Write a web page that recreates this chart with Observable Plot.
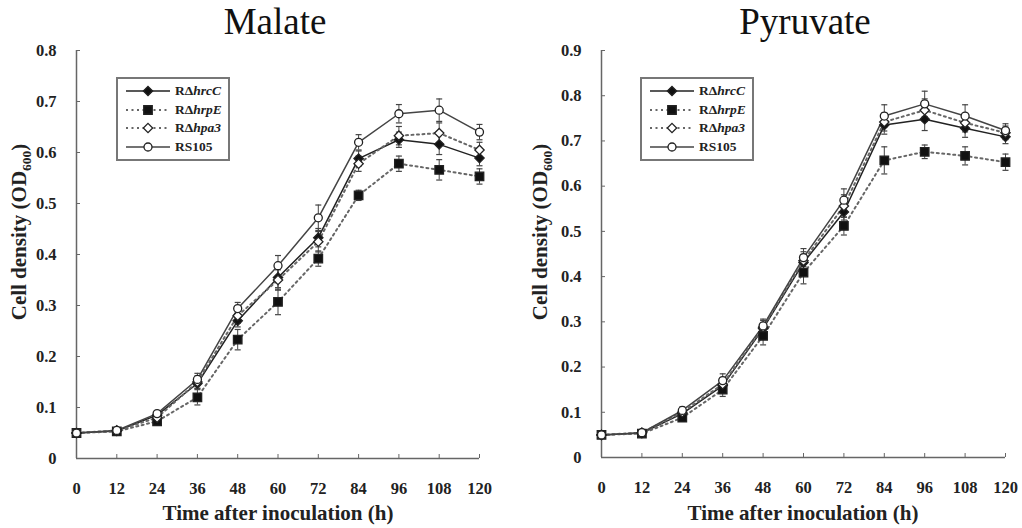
<!DOCTYPE html>
<html>
<head>
<meta charset="utf-8">
<script src="https://cdn.jsdelivr.net/npm/d3@7"></script>
<script src="https://cdn.jsdelivr.net/npm/@observablehq/plot@0.6"></script>
<style>
  html, body { margin: 0; padding: 0; background: #fff; }
  #wrap { position: relative; width: 1022px; height: 528px; overflow: hidden; font-family: "Liberation Serif", "Times New Roman", serif; }
  .panel { position: absolute; top: 0; width: 511px; height: 528px; }
  .title { position: absolute; top: 3px; font-size: 37px; line-height: 37px; color: #111; text-align: center; white-space: nowrap; }
  .legend { position: absolute; border: 2px solid #777; background: #fff; padding: 3px 6px 3px 6px; font-weight: bold; font-size: 13.5px; color: #222; }
  .legend .row { display: flex; align-items: center; height: 18.5px; white-space: nowrap; }
  .legend svg { margin-right: 3px; }
  .panel svg.plot { position: absolute; left: 0; top: 0; }
</style>
</head>
<body>
<div id="wrap"></div>
<script>
// ---------- data ----------
const hours = [0, 12, 24, 36, 48, 60, 72, 84, 96, 108, 120];
const seriesNames = ["RΔhrcC", "RΔhrpE", "RΔhpa3", "RS105"];

// Malate
const malateHrcC   = [0.050, 0.054, 0.085, 0.147, 0.270, 0.355, 0.433, 0.588, 0.625, 0.616, 0.589];
const malateHrpE   = [0.050, 0.053, 0.073, 0.120, 0.233, 0.307, 0.392, 0.516, 0.578, 0.566, 0.553];
const malateHpa3   = [0.050, 0.055, 0.080, 0.150, 0.280, 0.350, 0.425, 0.578, 0.633, 0.638, 0.605];
const malateRS105  = [0.050, 0.055, 0.088, 0.155, 0.294, 0.378, 0.472, 0.620, 0.676, 0.683, 0.640];
const malateErrHrcC  = [0.003, 0.004, 0.006, 0.010, 0.012, 0.020, 0.018, 0.015, 0.015, 0.020, 0.015];
const malateErrHrpE  = [0.003, 0.004, 0.008, 0.015, 0.020, 0.025, 0.015, 0.010, 0.015, 0.020, 0.015];
const malateErrHpa3  = [0.003, 0.004, 0.006, 0.012, 0.015, 0.020, 0.020, 0.015, 0.018, 0.020, 0.015];
const malateErrRS105 = [0.003, 0.004, 0.006, 0.012, 0.012, 0.020, 0.025, 0.015, 0.018, 0.022, 0.015];

// Pyruvate
const pyruvateHrcC   = [0.050, 0.054, 0.097, 0.159, 0.285, 0.431, 0.543, 0.735, 0.748, 0.728, 0.709];
const pyruvateHrpE   = [0.050, 0.053, 0.088, 0.150, 0.269, 0.409, 0.512, 0.657, 0.676, 0.667, 0.653];
const pyruvateHpa3   = [0.050, 0.055, 0.100, 0.162, 0.288, 0.435, 0.556, 0.742, 0.768, 0.740, 0.718];
const pyruvateRS105  = [0.050, 0.055, 0.104, 0.170, 0.291, 0.442, 0.569, 0.755, 0.782, 0.755, 0.723];
const pyruvateErrHrcC  = [0.003, 0.004, 0.008, 0.012, 0.012, 0.018, 0.018, 0.020, 0.025, 0.020, 0.015];
const pyruvateErrHrpE  = [0.003, 0.004, 0.008, 0.015, 0.020, 0.025, 0.020, 0.030, 0.015, 0.020, 0.018];
const pyruvateErrHpa3  = [0.003, 0.004, 0.008, 0.015, 0.015, 0.020, 0.025, 0.020, 0.025, 0.020, 0.015];
const pyruvateErrRS105 = [0.003, 0.004, 0.008, 0.015, 0.015, 0.020, 0.025, 0.025, 0.028, 0.025, 0.015];

const xTicks = [0, 12, 24, 36, 48, 60, 72, 84, 96, 108, 120];
const malateYTicks = [0, 0.1, 0.2, 0.3, 0.4, 0.5, 0.6, 0.7, 0.8];
const pyruvateYTicks = [0, 0.1, 0.2, 0.3, 0.4, 0.5, 0.6, 0.7, 0.8, 0.9];

// ---------- styling per series ----------
const styles = {
  "RΔhrcC": { stroke: "#222", dash: null, symbol: "diamond2", fill: "#111", r: 4.2 },
  "RΔhrpE": { stroke: "#666", dash: "2,3.5", symbol: "square", fill: "#111", r: 4.8 },
  "RΔhpa3": { stroke: "#666", dash: "2,3.5", symbol: "diamond2", fill: "#fff", r: 4.2 },
  "RS105":  { stroke: "#444", dash: null, symbol: "circle", fill: "#fff", r: 4.0 }
};

const capSymbol = { draw(ctx, size) { const r = Math.sqrt(size / Math.PI); ctx.moveTo(-r, 0); ctx.lineTo(r, 0); } };

function makeRows(vals, errs) {
  const rows = [];
  seriesNames.forEach((s, i) => {
    hours.forEach((h, j) => rows.push({ series: s, h, v: vals[i][j], e: errs[i][j] }));
  });
  return rows;
}

function buildPanel(cfg) {
  const rows = makeRows(cfg.vals, cfg.errs);
  const marks = [
    Plot.ruleY([0], { stroke: "#666", strokeWidth: 1.5 }),
    Plot.ruleX([0], { stroke: "#666", strokeWidth: 1.5 }),
    Plot.axisX({ ticks: xTicks, tickSize: -4, tickPadding: 28, label: null, fontSize: 16.5, fontWeight: "bold", color: "#222", stroke: "#666" }),
    Plot.axisY({ ticks: cfg.yTicks, tickSize: -4, tickPadding: 24, tickFormat: d => d === 0 ? "0" : d3.format(".1f")(d), label: null, fontSize: 16.5, fontWeight: "bold", color: "#222", stroke: "#666" })
  ];
  // error bars
  seriesNames.forEach(s => {
    const d = rows.filter(r => r.series === s);
    marks.push(Plot.ruleX(d, { x: "h", y1: r => r.v - r.e, y2: r => r.v + r.e, stroke: "#444", strokeWidth: 1 }));
    marks.push(Plot.dot(d, { x: "h", y: r => r.v + r.e, symbol: capSymbol, r: 3, stroke: "#444", strokeWidth: 1.2 }));
    marks.push(Plot.dot(d, { x: "h", y: r => r.v - r.e, symbol: capSymbol, r: 3, stroke: "#444", strokeWidth: 1.2 }));
  });
  // lines
  seriesNames.forEach(s => {
    const st = styles[s];
    const d = rows.filter(r => r.series === s);
    marks.push(Plot.line(d, { x: "h", y: "v", stroke: st.stroke, strokeWidth: st.dash ? 2 : 1.5, strokeDasharray: st.dash, strokeLinecap: "round" }));
  });
  // markers
  seriesNames.forEach(s => {
    const st = styles[s];
    const d = rows.filter(r => r.series === s);
    marks.push(Plot.dot(d, { x: "h", y: "v", symbol: st.symbol, r: st.r, fill: st.fill, stroke: "#222", strokeWidth: 1.3 }));
  });

  const plot = Plot.plot({
    width: 511, height: 528,
    marginLeft: cfg.ml, marginRight: cfg.mr, marginTop: 50, marginBottom: cfg.mb,
    x: { domain: [0, 120] },
    y: { domain: cfg.yDomain },
    style: { fontFamily: "'Liberation Serif', 'Times New Roman', serif", background: "transparent", overflow: "visible" },
    marks
  });
  plot.classList.add("plot");

  const svg = d3.select(plot);
  // Y axis title with subscript
  const cy = cfg.yTitleY;
  const yt = svg.append("text")
    .attr("transform", `translate(${cfg.yTitleX},${cy}) rotate(-90)`)
    .attr("text-anchor", "middle")
    .attr("font-family", "'Liberation Serif', serif")
    .attr("font-weight", "bold").attr("font-size", 21).attr("fill", "#222");
  yt.append("tspan").text("Cell density (OD");
  yt.append("tspan").text("600").attr("font-size", 13.5).attr("dy", 5);
  yt.append("tspan").text(")").attr("dy", -5);
  // X axis title
  svg.append("text")
    .attr("x", cfg.xTitleX).attr("y", 520)
    .attr("text-anchor", "middle")
    .attr("font-family", "'Liberation Serif', serif")
    .attr("font-weight", "bold").attr("font-size", 21).attr("fill", "#222")
    .text("Time after inoculation (h)");

  const panel = document.createElement("div");
  panel.className = "panel";
  panel.style.left = cfg.left + "px";
  panel.appendChild(plot);

  const title = document.createElement("div");
  title.className = "title";
  title.textContent = cfg.title;
  title.style.left = (cfg.titleX - 100) + "px";
  title.style.width = "200px";
  panel.appendChild(title);

  // legend
  const leg = document.createElement("div");
  leg.className = "legend";
  leg.style.left = cfg.legX + "px";
  leg.style.top = "77px";
  seriesNames.forEach(s => {
    const st = styles[s];
    const row = document.createElement("div");
    row.className = "row";
    const ns = "http://www.w3.org/2000/svg";
    const sw = document.createElementNS(ns, "svg");
    sw.setAttribute("width", 48); sw.setAttribute("height", 14);
    const ln = document.createElementNS(ns, "line");
    ln.setAttribute("x1", 2); ln.setAttribute("x2", 46); ln.setAttribute("y1", 7); ln.setAttribute("y2", 7);
    ln.setAttribute("stroke", st.stroke); ln.setAttribute("stroke-width", st.dash ? 2 : 1.5);
    if (st.dash) ln.setAttribute("stroke-dasharray", st.dash);
    sw.appendChild(ln);
    const p = document.createElementNS(ns, "path");
    const sym = { circle: d3.symbolCircle, square: d3.symbolSquare, diamond2: d3.symbolDiamond2 }[st.symbol];
    p.setAttribute("d", d3.symbol(sym, Math.PI * st.r * st.r)());
    p.setAttribute("transform", "translate(24,7)");
    p.setAttribute("fill", st.fill); p.setAttribute("stroke", "#222"); p.setAttribute("stroke-width", 1.3);
    sw.appendChild(p);
    row.appendChild(sw);
    const t = document.createElement("span");
    if (s.startsWith("RΔ")) {
      t.innerHTML = "RΔ<i>" + s.slice(2) + "</i>";
    } else {
      t.textContent = s;
    }
    row.appendChild(t);
    leg.appendChild(row);
  });
  panel.appendChild(leg);

  document.getElementById("wrap").appendChild(panel);
}

buildPanel({
  left: 0, title: "Malate", titleX: 275,
  vals: [malateHrcC, malateHrpE, malateHpa3, malateRS105],
  errs: [malateErrHrcC, malateErrHrpE, malateErrHpa3, malateErrRS105],
  yTicks: malateYTicks, yDomain: [0, 0.8],
  ml: 76, mr: 32, mb: 70, yTitleX: 26, yTitleY: 232, xTitleX: 278, legX: 116
});
buildPanel({
  left: 511, title: "Pyruvate", titleX: 294,
  vals: [pyruvateHrcC, pyruvateHrpE, pyruvateHpa3, pyruvateRS105],
  errs: [pyruvateErrHrcC, pyruvateErrHrpE, pyruvateErrHpa3, pyruvateErrRS105],
  yTicks: pyruvateYTicks, yDomain: [0, 0.9],
  ml: 90, mr: 17, mb: 71, yTitleX: 36, yTitleY: 232, xTitleX: 292, legX: 129
});
</script>
</body>
</html>
